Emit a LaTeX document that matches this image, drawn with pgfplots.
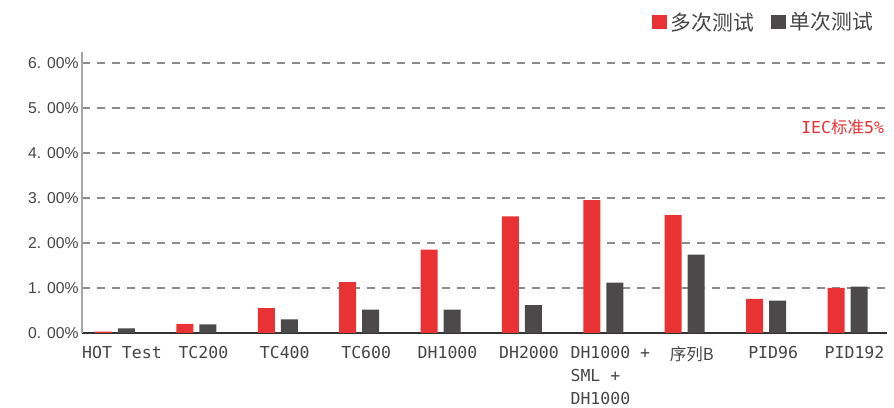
\documentclass[border=0pt]{standalone}
\usepackage{fontspec}
\setmainfont{DejaVu Sans Mono}
\newfontfamily\cjk{Noto Sans CJK SC}
\newfontfamily\ysans{Liberation Sans}
\usepackage{pgfplots}
\usepackage{pgfplotstable}
\pgfplotsset{compat=1.18}

\definecolor{multired}{HTML}{E83234}
\definecolor{singlegray}{HTML}{4B494A}
\definecolor{gridgray}{HTML}{8C8C8C}
\definecolor{ticktext}{HTML}{454545}

% 0 = HOT Test ... 9 = PID192
\pgfplotstableread{
x multi single
0 0.03 0.10
1 0.20 0.19
2 0.55 0.30
3 1.13 0.52
4 1.85 0.52
5 2.59 0.62
6 2.95 1.12
7 2.62 1.74
8 0.76 0.72
9 1.00 1.03
}\rates

\begin{document}
\begin{tikzpicture}
\useasboundingbox (0,0) rectangle (894bp,408bp);
\begin{axis}[
    at={(82bp,75bp)}, anchor=south west,
    scale only axis, width=805bp, height=281bp,
    xmin=-0.405, xmax=9.485,
    ymin=0, ymax=6.24,
    ybar=6bp, bar width=17bp,
    axis x line*=bottom, axis y line*=left,
    x axis line style={draw=black!80, line width=1.5bp, -},
    y axis line style={draw=gray!70, line width=1.5bp, -},
    major tick length=0pt,
    xtick={0,...,9},
    xticklabels={HOT Test, TC200, TC400, TC600, DH1000, DH2000,
        {DH1000 +\\SML +\\DH1000}, {{\cjk 序列B}}, PID96, PID192},
    xticklabel style={font=\fontsize{16.5bp}{23bp}\selectfont, text=ticktext,
        align=left, xshift=7bp, yshift=-10bp},
    ytick={0,...,6},
    yticklabels={0. 00\%, 1. 00\%, 2. 00\%, 3. 00\%, 4. 00\%, 5. 00\%, 6. 00\%},
    yticklabel style={font=\ysans\fontsize{15.7bp}{18bp}\selectfont, text=ticktext},
    ymajorgrids,
    grid style={gridgray, line width=1.5bp, dash pattern=on 8bp off 7bp},
    legend columns=2,
    legend image code/.code={\fill[#1] (0bp,-7bp) rectangle (15bp,7bp); \path (19bp,0bp);},
    legend style={draw=none, fill=none, at={(0.983,1)}, anchor=east, yshift=30bp,
        inner sep=0pt, nodes={inner sep=0pt}, cells={anchor=west},
        /tikz/every even column/.append style={column sep=17bp},
        font=\cjk\fontsize{20.8bp}{24bp}\selectfont, text=ticktext},
]
\addplot[fill=multired, draw=none] table[x=x, y=multi] {\rates};
\addplot[fill=singlegray, draw=none] table[x=x, y=single] {\rates};
\legend{{\cjk 多次测试}, {\cjk 单次测试}}
\node[anchor=east, text=multired, font=\fontsize{16.5bp}{18bp}\selectfont, inner sep=0pt]
    at (axis cs:9.45,4.56) {IEC{\cjk 标准}5\%};
\end{axis}
\end{tikzpicture}
\end{document}
